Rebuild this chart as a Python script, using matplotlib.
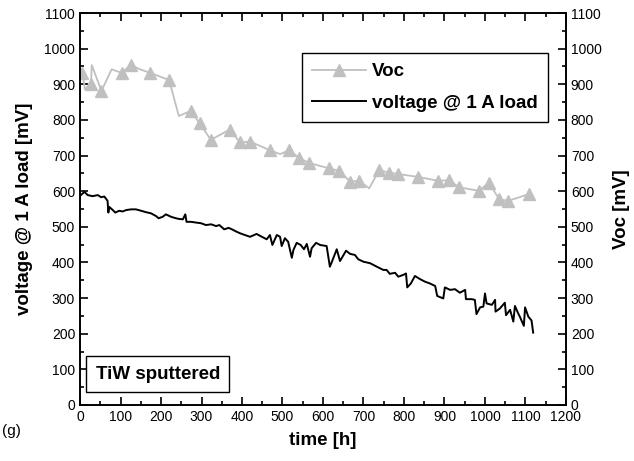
import matplotlib.pyplot as plt
from matplotlib.ticker import MultipleLocator

plt.rcParams["font.family"] = ["Liberation Sans", "DejaVu Sans"]

# Voc readings (light grey line, triangles on the measured points)
voc_time = [6, 12, 27, 29, 53, 78, 103, 125, 148, 173, 220, 244, 273, 296, 323,
            370, 395, 420, 469, 494, 517, 541, 566, 615, 640, 667, 689, 714, 739,
            762, 786, 835, 885, 911, 936, 985, 1010, 1035, 1058, 1109, 1119]
voc_mv = [932, 886, 900, 954, 881, 942, 932, 954, 942, 932, 912, 811, 825, 790, 744,
          773, 737, 739, 715, 704, 715, 693, 679, 664, 657, 627, 629, 608, 659,
          652, 648, 640, 629, 631, 611, 601, 624, 577, 573, 592, 584]
voc_marked = [0, 2, 4, 6, 7, 9, 10, 12, 13, 14, 15, 16, 17, 18, 20, 21, 22, 23, 24,
              25, 26, 28, 29, 30, 31, 32, 33, 34, 35, 36, 37, 38, 39]

# voltage at 1 A load (black line)
load_time = [2, 11, 19, 31, 44, 52, 60, 68, 70, 72, 81, 87, 97, 105, 114, 126, 138,
             151, 163, 175, 188, 194, 204, 212, 225, 237, 245, 254, 260, 263, 274,
             286, 299, 311, 324, 336, 344, 356, 367, 375, 387, 395, 407, 420, 436,
             449, 461, 469, 475, 486, 494, 498, 506, 514, 523, 527, 535, 545, 553,
             560, 568, 572, 583, 593, 609, 617, 622, 634, 642, 657, 667, 679, 687,
             700, 716, 733, 749, 757, 765, 778, 786, 798, 805, 808, 817, 827, 840,
             852, 864, 877, 882, 897, 901, 914, 926, 938, 951, 953, 967, 975, 979,
             988, 996, 1000, 1004, 1017, 1025, 1026, 1037, 1049, 1052, 1062, 1070,
             1074, 1082, 1086, 1096, 1099, 1107, 1115, 1119]
load_mv = [589, 598, 589, 586, 589, 583, 585, 573, 540, 556, 547, 540, 545, 543, 547,
           549, 549, 545, 541, 538, 530, 524, 528, 535, 528, 524, 522, 521, 535, 514,
           514, 512, 510, 505, 507, 502, 505, 493, 497, 493, 486, 482, 477, 472, 480,
           472, 465, 477, 449, 477, 472, 446, 468, 458, 413, 435, 455, 449, 437, 452,
           416, 440, 455, 449, 446, 388, 402, 437, 404, 433, 424, 421, 409, 402, 398,
           388, 379, 379, 368, 371, 360, 365, 369, 330, 341, 362, 353, 346, 341, 334,
           306, 299, 330, 323, 325, 315, 323, 297, 297, 295, 255, 274, 276, 313, 285,
           281, 295, 262, 271, 287, 252, 267, 234, 278, 257, 248, 222, 274, 248, 237,
           203]

grey = "#c0c0c0"
bold = dict(fontsize=13.5, fontweight="bold")

fig = plt.figure(figsize=(6.34, 4.61), dpi=100)
ax = fig.add_axes([0.1262, 0.1215, 0.7665, 0.8503])

ax.plot(voc_time, voc_mv, color=grey, lw=1.3, marker="^", ms=8,
        markevery=voc_marked, mfc=grey, mec=grey, label="Voc")
ax.plot(load_time, load_mv, color="black", lw=1.4, label="voltage @ 1 A load")

ax.set_xlim(0, 1200)
ax.set_ylim(0, 1100)
ax2 = ax.twinx()
ax2.set_ylim(0, 1100)

for a in (ax, ax2):
    a.yaxis.set_major_locator(MultipleLocator(100))
    a.yaxis.set_minor_locator(MultipleLocator(50))
    for s in a.spines.values():
        s.set_linewidth(1.2)
ax.xaxis.set_major_locator(MultipleLocator(100))
ax.xaxis.set_minor_locator(MultipleLocator(50))

ax.tick_params(which="both", direction="in", top=True, right=False,
               labelsize=10, width=1.2)
ax.tick_params(which="major", length=6)
ax.tick_params(which="minor", length=3)
ax2.tick_params(which="both", direction="in", labelsize=10, width=1.2)
ax2.tick_params(which="major", length=6)
ax2.tick_params(which="minor", length=3)

ax.set_xlabel("time [h]", labelpad=6, **bold)
ax.set_ylabel("voltage @ 1 A load [mV]", labelpad=8, **bold)
ax2.set_ylabel("Voc [mV]", labelpad=8, **bold)

leg = ax.legend(loc="upper right", bbox_to_anchor=(0.963, 0.898), borderaxespad=0,
                fancybox=False, edgecolor="black", framealpha=1, handlelength=2.9,
                prop=dict(size=13.5, weight="bold"), borderpad=0.55,
                labelspacing=0.75, handletextpad=0.3)
leg.get_frame().set_linewidth(1.0)

ax.text(0.16, 0.079, "TiW sputtered", transform=ax.transAxes, ha="center",
        va="center", bbox=dict(boxstyle="square,pad=0.5", fc="white",
                               ec="black", lw=1.0), **bold)

fig.text(0.003, 0.065, "(g)", fontsize=11, ha="left", va="center")

fig.savefig("out.png", dpi=100)
